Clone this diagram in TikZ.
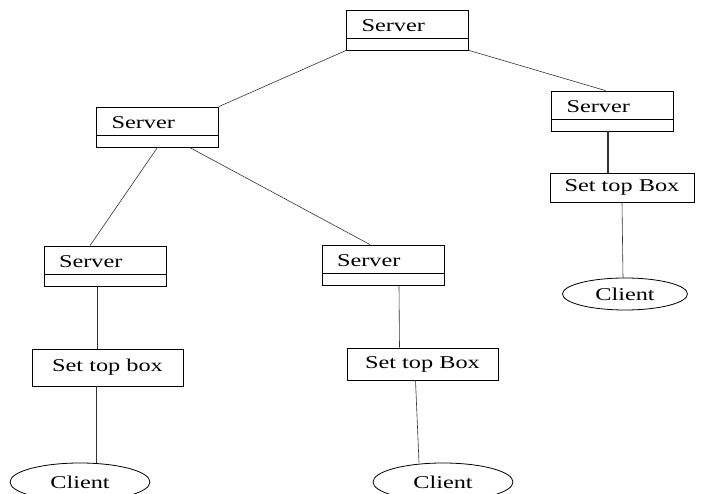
\documentclass[tikz,border=0pt]{standalone}
\usepackage{fontspec}
\setmainfont[FakeStretch=1.35]{Liberation Serif}
\usepackage{tikz}
\usetikzlibrary{shapes.geometric, positioning, calc}
\tikzset{
  srv/.style  = {rectangle, draw, thick, minimum width=122pt,
                 minimum height=40pt, inner sep=0pt, inner xsep=15pt,
                 text width=92pt, align=left,
                 text height=12pt, text depth=8pt,
                 path picture={\draw[thick]
                   ([yshift=12pt]path picture bounding box.south west) --
                   ([yshift=12pt]path picture bounding box.south east);}},
  stb/.style  = {rectangle, draw, thick, minimum width=#1,
                 inner sep=0pt, align=center},
  stb/.default = 150pt,
  cli/.style  = {ellipse, draw, thick, inner sep=0pt},
  lnk/.style  = {draw=black!80, semithick},
}

\begin{document}
\begin{tikzpicture}[
  x=1pt, y=-1pt,
  font=\fontsize{18}{20}\selectfont,
]
  \useasboundingbox (0,0) rectangle (702,494);

  %% Servers
  \node[srv] (top)  at (407.5,30)  {Server};
  \node[srv] (lsrv) at (157.5,127) {Server};
  \node[srv] (rsrv) at (612.5,111) {Server};
  \node[srv] (asrv) at (105,266)   {Server};
  \node[srv] (bsrv) at (383,265)   {Server};

  %% Set top boxes
  \node[stb=151pt, minimum height=37pt] (abox) at (107.5,367.5) {Set top box};
  \node[stb=151pt, minimum height=32pt] (bbox) at (422.5,364)   {Set top Box};
  \node[stb=144pt, minimum height=29pt] (rbox) at (622,187.5)   {Set top Box};

  %% Clients
  \node[cli, minimum width=140pt, minimum height=38pt] (acli) at (80,482)  {Client};
  \node[cli, minimum width=140pt, minimum height=38pt] (bcli) at (443,482) {Client};
  \node[cli, minimum width=125pt, minimum height=32pt] (rcli) at (625,294) {Client};

  %% Links
  \draw[lnk] (top.south west) -- (lsrv.north east);
  \draw[lnk] (top.south east) -- ([xshift=-7pt]rsrv.north);
  \draw[lnk] (lsrv.south) -- ([xshift=-15pt]asrv.north);
  \draw[lnk] ([xshift=32pt]lsrv.south) -- ([xshift=-13pt]bsrv.north);

  \draw[lnk] ([xshift=-8pt]asrv.south) -- ([xshift=-8pt]asrv.south |- abox.north);
  \draw[lnk] ([xshift=-11pt]abox.south) -- ([xshift=-11pt]abox.south |- acli.north);

  \draw[lnk] ([xshift=16pt]bsrv.south) -- ([xshift=-23pt]bbox.north);
  \draw[lnk] ([xshift=-7pt]bbox.south) -- ([xshift=-24pt]bcli.north);

  \draw[lnk, line width=2pt] ([xshift=-5pt]rsrv.south) -- ([xshift=-5pt]rsrv.south |- rbox.north);
  \draw[lnk] (rbox.south) -- ([xshift=-2pt]rcli.north);

\end{tikzpicture}
\end{document}
